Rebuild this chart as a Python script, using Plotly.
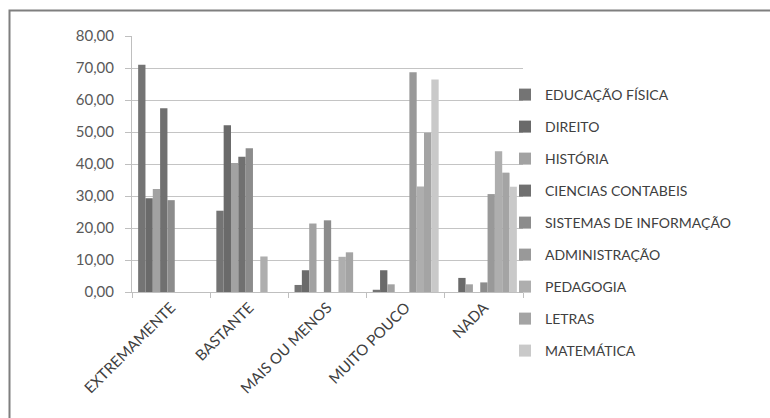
import plotly.graph_objects as go

categories = ["EXTREMAMENTE", "BASTANTE", "MAIS OU MENOS", "MUITO POUCO", "NADA"]

series_names = [
    "EDUCAÇÃO FÍSICA",
    "DIREITO",
    "HISTÓRIA",
    "CIENCIAS CONTABEIS",
    "SISTEMAS DE INFORMAÇÃO",
    "ADMINISTRAÇÃO",
    "PEDAGOGIA",
    "LETRAS",
    "MATEMÁTICA",
]

educacao_fisica = [71.0, 25.4, 2.2, 0.7, 0.0]
direito = [29.3, 52.1, 6.8, 6.8, 4.4]
historia = [32.2, 40.3, 21.4, 2.4, 2.4]
ciencias_contabeis = [57.4, 42.3, 0.0, 0.0, 0.0]
sistemas_informacao = [28.7, 44.9, 22.4, 0.0, 3.0]
administracao = [0.0, 0.0, 0.0, 68.7, 30.6]
pedagogia = [0.0, 11.1, 11.0, 33.0, 44.0]
letras = [0.0, 0.0, 12.4, 49.8, 37.3]
matematica = [0.0, 0.0, 0.0, 66.4, 32.9]

series_values = [
    educacao_fisica, direito, historia, ciencias_contabeis, sistemas_informacao,
    administracao, pedagogia, letras, matematica,
]

colors = ["#747474", "#6a6a6a", "#a2a2a2", "#707070", "#8c8c8c",
          "#999999", "#aeaeae", "#a4a4a4", "#c9c9c9"]

y_ticks = [0, 10, 20, 30, 40, 50, 60, 70, 80]

W, H = 770, 418
PL, PR, PT, PB = 132, 523, 36, 292  # plot area pixel bounds

def px_x(p):
    return (p - PL) / (PR - PL)

def px_y(p):
    return (PB - p) / (PB - PT)

FONT = "Lato, 'Open Sans', sans-serif"

fig = go.Figure()
for name, vals, col in zip(series_names, series_values, colors):
    fig.add_trace(go.Bar(
        name=name, x=categories, y=vals,
        marker=dict(color=col, line=dict(width=0)),
        legendgroup=name,
    ))

fig.update_layout(
    width=W, height=H,
    margin=dict(l=PL, r=W - PR, t=PT, b=H - PB, autoexpand=False),
    paper_bgcolor="white", plot_bgcolor="white",
    barmode="group", bargap=0.157, bargroupgap=0,
    separators=",.",
    font=dict(family=FONT, size=14, color="#404040"),
    showlegend=True,
    legend=dict(
        x=px_x(505), xanchor="left", y=px_y(79), yanchor="top",
        font=dict(family=FONT, size=14, color="#404040"),
        bgcolor="rgba(0,0,0,0)", tracegroupgap=10.8,
        traceorder="grouped", maxheight=400,
    ),
    xaxis=dict(
        type="category", tickangle=-45, tickson="boundaries",
        ticks="outside", ticklen=5, tickcolor="#bfbfbf",
        showline=True, linecolor="#bfbfbf", linewidth=1,
        showgrid=False, tickfont=dict(family=FONT, size=15, color="#404040"),
        fixedrange=True,
    ),
    yaxis=dict(
        range=[0, 80], tickvals=y_ticks, tickformat=".2f",
        ticks="outside", ticklen=6, tickcolor="#bfbfbf",
        showline=True, linecolor="#bfbfbf", linewidth=1,
        showgrid=True, gridcolor="#c4c4c4", gridwidth=1, zeroline=False,
        tickfont=dict(family=FONT, size=15, color="#595959"),
        ticklabelstandoff=8,
    ),
    shapes=[dict(
        type="rect", xref="paper", yref="paper",
        x0=px_x(9.5), x1=px_x(790), y0=px_y(440), y1=px_y(10.5),
        line=dict(color="#7f7f7f", width=2), fillcolor="rgba(0,0,0,0)",
        layer="below",
    )],
)

fig.write_html("out.html")
